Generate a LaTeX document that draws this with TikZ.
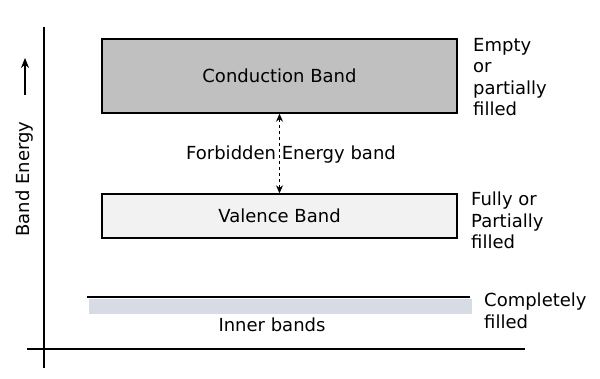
\documentclass[tikz,border=0pt]{standalone}
\usepackage{fontspec}
\setmainfont{DejaVu Sans}
\usetikzlibrary{arrows.meta}
\definecolor{condfill}{HTML}{C0C0C0}
\definecolor{valfill}{HTML}{F2F2F2}
\definecolor{innerfill}{HTML}{D6DBE4}

\begin{document}
\begin{tikzpicture}[x=1pt,y=-1pt,>=Stealth,font=\fontsize{18}{21.5}\selectfont]
  \useasboundingbox (0,0) rectangle (600,379);
  \tikzset{band/.style={draw,line width=1.4pt,minimum width=355pt,inner sep=0pt},
    side/.style={anchor=north west,align=left,inner sep=0pt}}
  % axes
  \draw[line width=1.8pt] (44,27)--(44,368);
  \draw[line width=1.8pt] (27,349)--(525,349);
  \node[rotate=90] (energy) at (25,179) {Band Energy};
  \draw[line width=1.2pt,-{Stealth[length=10pt,width=8pt]}] (25,95)--(25,58);
  % bands
  \node[band,fill=condfill,minimum height=74pt] (cb) at (279.5,76) {Conduction Band};
  \node[band,fill=valfill,minimum height=44pt] (vb) at (279.5,216) {Valence Band};
  \fill[innerfill] (89,299) rectangle (472,314);
  \draw[line width=1.4pt] (87,297)--(470,297);
  \node (ib) at (272,325) {Inner bands};
  \node (gap) at (291,155) {Forbidden Energy band};
  \draw[dashed,line width=.9pt,{Stealth[length=8pt,width=7pt]}-{Stealth[length=8pt,width=7pt]}] (cb.south)--(vb.north);
  % right side labels
  \node[side] (cbtxt) at (473,38) {Empty\\or\\partially\\filled};
  \node[side] (vbtxt) at (471,192) {Fully or\\Partially\\filled};
  \node[side] (ibtxt) at (484,293) {Completely\\filled};
\end{tikzpicture}
\end{document}
